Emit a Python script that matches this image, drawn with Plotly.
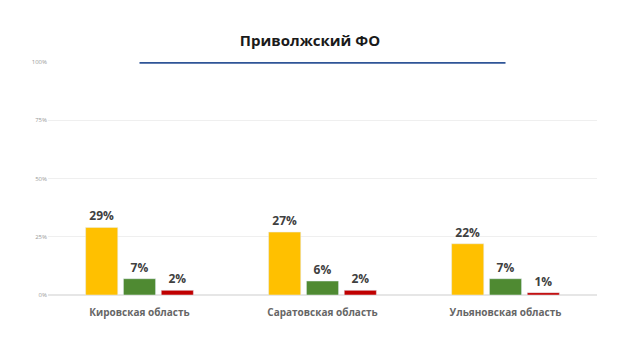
import plotly.graph_objects as go

categories = ["Кировская область", "Саратовская область", "Ульяновская область"]
series_yellow = [29, 27, 22]
series_green = [7, 6, 7]
series_red = [2, 2, 1]
line_values = [100, 100, 100]
tick_vals = [0, 25, 50, 75, 100]
tick_text = ["0%", "25%", "50%", "75%", "100%"]

label_font = dict(family="Open Sans", size=12, color="#404040")

fig = go.Figure()
for vals, color in [(series_yellow, "#FFC000"), (series_green, "#4F8A32"), (series_red, "#C00000")]:
    fig.add_trace(go.Bar(
        x=categories, y=vals, marker_color=color,
        text=[f"<b>{v}%</b>" for v in vals], textposition="outside",
        textfont=label_font, cliponaxis=False, showlegend=False,
    ))
fig.add_trace(go.Scatter(
    x=categories, y=line_values, mode="lines",
    line=dict(color="#2F5597", width=3.5), showlegend=False,
))

fig.update_layout(
    width=620, height=354,
    margin=dict(l=48, r=23, t=62, b=59),
    paper_bgcolor="white", plot_bgcolor="white",
    barmode="group", bargap=0.38, bargroupgap=0.15,
    title=dict(text="<b>Приволжский ФО</b>", x=0.5, xanchor="center",
               y=0.885, yanchor="middle",
               font=dict(family="Open Sans", size=15, color="#1a1a1a")),
    xaxis=dict(showgrid=False, showline=False, ticks="", ticklabelstandoff=10,
               tickfont=dict(family="Open Sans", size=10, color="#666666", weight="bold")),
    yaxis=dict(range=[0, 100], tickvals=tick_vals, ticktext=tick_text,
               showgrid=True, gridcolor="#EFEFEF", gridwidth=1,
               zeroline=True, zerolinecolor="#E6E6E6",
               tickfont=dict(family="Open Sans", size=6, color="#9a9a9a")),
)
fig.write_html("out.html")
